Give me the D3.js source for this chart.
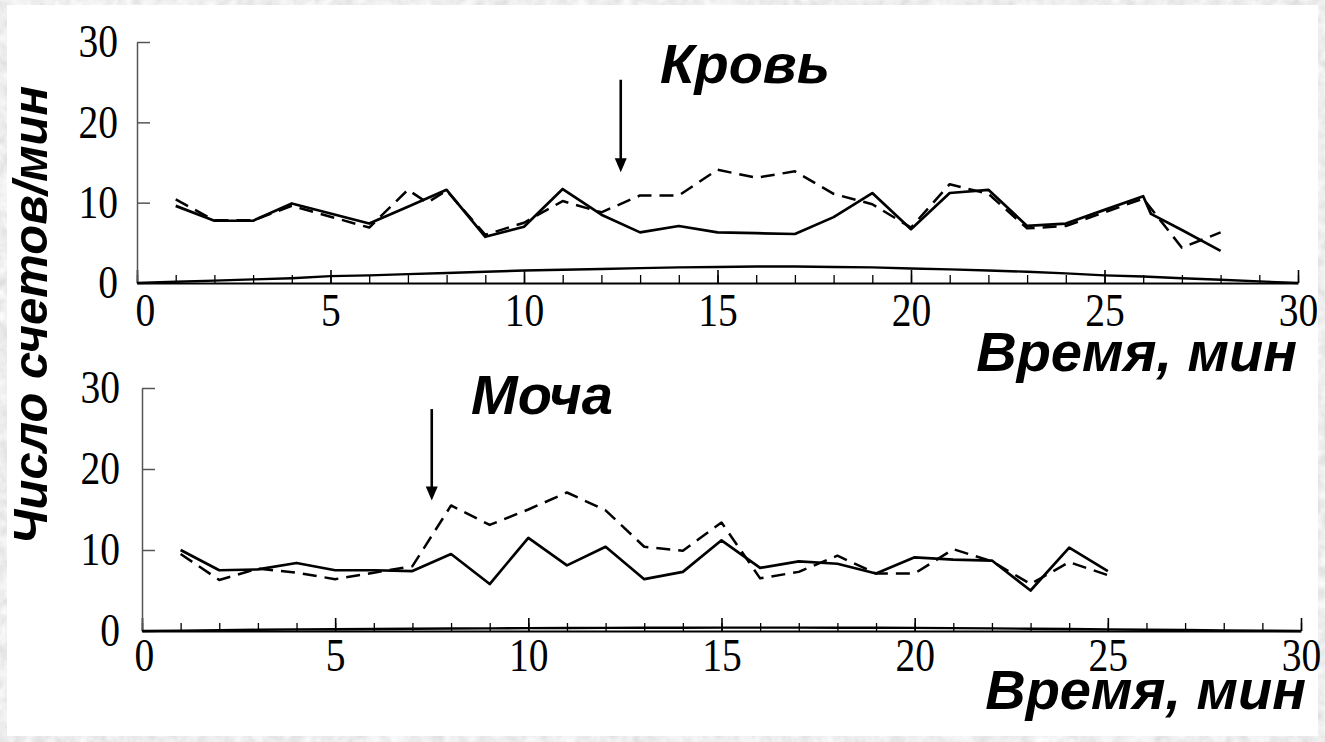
<!DOCTYPE html>
<html>
<head>
<meta charset="utf-8">
<script src="https://cdn.jsdelivr.net/npm/d3@7"></script>
<style>
  html, body { margin: 0; padding: 0; background: #fff; }
  svg { display: block; }
</style>
</head>
<body>
<svg id="chart" width="1325" height="742"></svg>
<script>
// ---- data ----------------------------------------------------------
// Кровь (blood): counts per minute, solid = control, dashed = after injection
const bloodSolidMin = [1, 2, 3, 4, 5, 6, 7, 8, 9, 10, 11, 12, 13, 14, 15, 16, 17, 18, 19, 20, 21, 22, 23, 24, 25, 26, 26.2, 27, 28];
const bloodSolid    = [9.6, 7.75, 7.75, 9.9, 8.65, 7.4, 9.5, 11.6, 5.75, 7.0, 11.7, 8.5, 6.3, 7.1, 6.3, 6.2, 6.1, 8.2, 11.2, 6.7, 11.2, 11.6, 7.1, 7.4, 9.1, 10.8, 8.6, 6.6, 4.0];
const bloodDashedMin = [1, 2, 3, 4, 5, 6, 7, 7.5, 8, 9, 10, 11, 12, 13, 14, 15, 16, 17, 18, 19, 20, 21, 22, 23, 24, 25, 26, 27, 28];
const bloodDashed    = [10.4, 7.8, 7.8, 9.6, 8.25, 6.9, 11.6, 10.0, 11.5, 6.0, 7.5, 10.2, 8.8, 10.9, 10.9, 14.1, 13.1, 13.9, 11.1, 9.8, 6.9, 12.3, 11.1, 6.8, 7.1, 8.8, 10.5, 4.4, 6.3];
// background level, 0..30 min
const baseMin = d3.range(0, 31);
const bloodBase = [0, 0.15, 0.3, 0.45, 0.6, 0.85, 0.95, 1.1, 1.25, 1.4, 1.55, 1.65, 1.75, 1.85, 1.95, 2.0, 2.05, 2.05, 2.0, 1.95, 1.8, 1.7, 1.55, 1.4, 1.2, 0.95, 0.8, 0.6, 0.4, 0.2, 0];

// Моча (urine)
const urineMin = [1, 2, 3, 4, 5, 6, 7, 8, 9, 10, 11, 12, 13, 14, 15, 16, 17, 18, 19, 20, 21, 22, 23, 24, 25];
const urineSolid  = [10.0, 7.5, 7.6, 8.4, 7.5, 7.5, 7.4, 9.5, 5.8, 11.5, 8.1, 10.4, 6.4, 7.3, 11.2, 7.8, 8.6, 8.3, 7.1, 9.1, 8.8, 8.7, 5.0, 10.3, 7.4];
const urineDashed = [9.5, 6.3, 7.7, 7.2, 6.4, 7.2, 8.0, 15.5, 13.1, 15.0, 17.1, 14.9, 10.4, 9.9, 13.4, 6.5, 7.3, 9.3, 7.1, 7.1, 10.1, 8.6, 5.8, 8.5, 6.9];
const urineBase = [0, 0.05, 0.1, 0.15, 0.2, 0.22, 0.25, 0.28, 0.3, 0.32, 0.35, 0.37, 0.38, 0.4, 0.4, 0.42, 0.42, 0.42, 0.4, 0.4, 0.38, 0.35, 0.32, 0.28, 0.24, 0.2, 0.15, 0.12, 0.08, 0.04, 0];

// moment of sampling (arrow) and arrow span in counts
const bloodArrow = { at: 12.5, from: 25.3, to: 13.8 };
const urineArrow = { at: 7.5, from: 27.4, to: 16.1 };

const xTicksMajor = [0, 5, 10, 15, 20, 25, 30];
const yTicks = [0, 10, 20, 30];
const titles = { blood: "Кровь", urine: "Моча", xLabel: "Время, мин", yLabel: "Число счетов/мин" };

// ---- drawing -------------------------------------------------------
const svg = d3.select("#chart");
const W = 1325, H = 742;

// textured grey frame with a white sheet on top
const defs = svg.append("defs");
const f = defs.append("filter").attr("id", "paper").attr("x", 0).attr("y", 0).attr("width", 1).attr("height", 1);
f.append("feTurbulence").attr("type", "fractalNoise").attr("baseFrequency", 0.09).attr("numOctaves", 4).attr("seed", 7);
f.append("feColorMatrix").attr("type", "saturate").attr("values", 0);
const ct = f.append("feComponentTransfer");
ct.append("feFuncR").attr("type", "linear").attr("slope", 0.45).attr("intercept", 0.63);
ct.append("feFuncG").attr("type", "linear").attr("slope", 0.45).attr("intercept", 0.63);
ct.append("feFuncB").attr("type", "linear").attr("slope", 0.45).attr("intercept", 0.63);
ct.append("feFuncA").attr("type", "linear").attr("slope", 0).attr("intercept", 1);

svg.append("rect").attr("width", W).attr("height", H).attr("fill", "#dadada");
svg.append("rect").attr("width", W).attr("height", H).attr("filter", "url(#paper)");
svg.append("rect").attr("x", 7).attr("y", 5).attr("width", 1311).attr("height", 731).attr("fill", "#fff");

const serif = "'Liberation Serif', 'Times New Roman', serif";
const sans = "'Liberation Sans', Arial, sans-serif";
const tickFont = 46, tickSqueeze = 0.86;

function panel(cfg) {
  const x = d3.scaleLinear().domain([0, 30]).range([cfg.x0, cfg.x1]);
  const y = d3.scaleLinear().domain([0, 30]).range([cfg.y0, cfg.y1]);
  const g = svg.append("g");

  // minor x ticks every minute
  g.append("g")
    .attr("transform", `translate(0,${cfg.y0})`)
    .call(d3.axisBottom(x).tickValues(d3.range(0, 31)).tickSizeInner(-8).tickSizeOuter(0).tickFormat(""))
    .call(a => a.select(".domain").remove())
    .call(a => a.selectAll("line").attr("stroke", "#000").attr("stroke-width", 1.3));

  // major x ticks with labels (narrow serif digits)
  g.append("g")
    .attr("transform", `translate(0,${cfg.y0})`)
    .call(d3.axisBottom(x).tickValues(xTicksMajor).tickSizeInner(-13).tickSizeOuter(0).tickPadding(cfg.xPad))
    .call(a => a.select(".domain").attr("stroke", "#000").attr("stroke-width", 2.2))
    .call(a => a.selectAll("line").attr("stroke", "#000").attr("stroke-width", 1.6))
    .call(a => a.selectAll("text")
      .attr("font-family", serif).attr("font-size", tickFont).attr("fill", "#000")
      .attr("transform", d => `translate(${d === 0 ? cfg.zeroShift : 0},0) scale(${tickSqueeze},1)`));

  // y axis
  g.append("g")
    .attr("transform", `translate(${cfg.x0},0)`)
    .call(d3.axisLeft(y).tickValues(yTicks).tickSizeInner(-13).tickSizeOuter(0).tickPadding(cfg.yPad / tickSqueeze))
    .call(a => a.select(".domain").attr("stroke", "#555").attr("stroke-width", 1.5))
    .call(a => a.selectAll("line").attr("stroke", "#555").attr("stroke-width", 1.5))
    .call(a => a.selectAll("text")
      .attr("font-family", serif).attr("font-size", tickFont).attr("fill", "#000")
      .attr("transform", `scale(${tickSqueeze},1)`));

  const line = d3.line().x(d => x(d[0])).y(d => y(d[1]));

  // background curve along the axis
  g.append("path")
    .attr("d", line(d3.zip(baseMin, cfg.base)))
    .attr("fill", "none").attr("stroke", "#000").attr("stroke-width", 2.4);

  g.append("path")
    .attr("d", line(d3.zip(cfg.dashedMin, cfg.dashed)))
    .attr("fill", "none").attr("stroke", "#000").attr("stroke-width", 2.5)
    .attr("stroke-dasharray", "14,8").attr("stroke-linejoin", "round");

  g.append("path")
    .attr("d", line(d3.zip(cfg.solidMin, cfg.solid)))
    .attr("fill", "none").attr("stroke", "#000").attr("stroke-width", 2.7).attr("stroke-linejoin", "round");

  // arrow marking the sampling moment
  const ax = x(cfg.arrow.at), ay0 = y(cfg.arrow.from), ay1 = y(cfg.arrow.to);
  g.append("line").attr("x1", ax).attr("x2", ax).attr("y1", ay0).attr("y2", ay1 - 12)
    .attr("stroke", "#000").attr("stroke-width", 2.6);
  g.append("path")
    .attr("d", `M${ax - 6},${ay1 - 14}L${ax + 6},${ay1 - 14}L${ax},${ay1}Z`)
    .attr("fill", "#000");

  // titles
  g.append("text").attr("x", cfg.titleX).attr("y", cfg.titleY)
    .attr("font-family", sans).attr("font-weight", "bold").attr("font-style", "italic")
    .attr("font-size", 56).text(cfg.title);
  g.append("text").attr("x", cfg.xLabelX).attr("y", cfg.xLabelY).attr("text-anchor", "end")
    .attr("font-family", sans).attr("font-weight", "bold").attr("font-style", "italic")
    .attr("font-size", 56).text(titles.xLabel);
}

panel({
  x0: 137, x1: 1298, y0: 283, y1: 42, xPad: 10, yPad: 19, zeroShift: 8,
  base: bloodBase,
  solidMin: bloodSolidMin, solid: bloodSolid,
  dashedMin: bloodDashedMin, dashed: bloodDashed,
  arrow: bloodArrow,
  title: titles.blood, titleX: 660, titleY: 83,
  xLabelX: 1297, xLabelY: 371
});

panel({
  x0: 142, x1: 1301, y0: 631, y1: 388, xPad: 7, yPad: 22, zeroShift: 2,
  base: urineBase,
  solidMin: urineMin, solid: urineSolid,
  dashedMin: urineMin, dashed: urineDashed,
  arrow: urineArrow,
  title: titles.urine, titleX: 471, titleY: 414,
  xLabelX: 1306, xLabelY: 709
});

// shared y label
svg.append("text")
  .attr("transform", "translate(47,315) rotate(-90)")
  .attr("text-anchor", "middle")
  .attr("font-family", sans).attr("font-weight", "bold").attr("font-style", "italic")
  .attr("font-size", 49).text(titles.yLabel);
</script>
</body>
</html>
